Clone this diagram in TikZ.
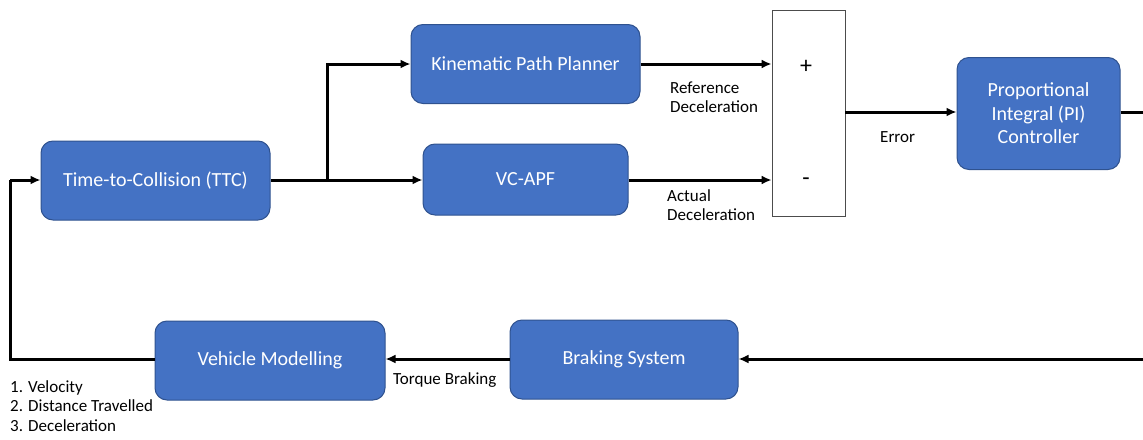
\documentclass[tikz,border=0pt]{standalone}
\usepackage{fontspec}
\setmainfont{Carlito}
\usetikzlibrary{arrows.meta}
\definecolor{boxfill}{HTML}{4472C4}
\definecolor{boxline}{HTML}{2F528F}
\begin{document}
\begin{tikzpicture}[x=1pt,y=-1pt,
  block/.style={draw=boxline, line width=1pt, fill=boxfill, rounded corners=12pt,
    text=white, font=\fontsize{20}{23.5}\selectfont, align=center, inner sep=0pt},
  sumbox/.style={draw=black!70, line width=0.8pt, fill=white, inner sep=0pt},
  sign/.style={font=\fontsize{24}{24}\selectfont, inner sep=0pt},
  lab/.style={font=\fontsize{17}{19.5}\selectfont, align=left, inner sep=0pt, anchor=north west},
  flow/.style={line width=3pt, -{Latex[length=10pt,width=9pt]}},
  wire/.style={line width=3pt}]
\useasboundingbox (0,0) rectangle (1143,439);

% blocks
\node[block, minimum width=229pt, minimum height=79pt] (ttc) at (155.5,180.5) {Time-to-Collision (TTC)};
\node[block, minimum width=229pt, minimum height=79pt] (kpp) at (525.5,64) {Kinematic Path Planner};
\node[block, minimum width=205pt, minimum height=71pt] (apf) at (525.5,179.5) {VC-APF};
\node[sumbox, minimum width=73pt, minimum height=206pt] (sum) at (808.5,113) {};
\node[sign] (plus) at (806,67) {+};
\node[sign] (minus) at (806,182) {-};
\node[block, minimum width=163pt, minimum height=112pt] (pi) at (1038.5,113.5) {Proportional\\Integral (PI)\\Controller};
\node[block, minimum width=230pt, minimum height=79pt] (veh) at (270,360.5) {Vehicle Modelling};
\node[block, minimum width=228pt, minimum height=79pt] (brk) at (624,359.5) {Braking System};

% free ends of the loop
\coordinate (branch) at (327,180);
\coordinate (piout) at (1143,112);
\coordinate (brkin) at (1143,359);
\coordinate (loopbl) at (10,359);
\coordinate (looptl) at (10,180);

% forward path
\draw[wire] (ttc.east |- branch) -- (branch);
\draw[flow] (branch) -- (apf.west |- branch);
\draw[flow] (branch) |- (kpp.west |- 0,64);
\draw[flow] (kpp.east |- 0,64) -- (sum.west |- 0,64);
\draw[flow] (apf.east |- branch) -- (sum.west |- branch);
\draw[flow] (sum.east |- piout) -- (pi.west |- piout);
\draw[wire] (pi.east |- piout) -- (piout);

% feedback path
\draw[flow] (brkin) -- (brk.east |- brkin);
\draw[flow] (brk.west |- brkin) -- (veh.east |- brkin);
\draw[wire] (veh.west |- brkin) -- (loopbl) -- (looptl);
\draw[flow] (looptl) -- (ttc.west |- looptl);

% signal labels
\node[lab] (lref) at (670,81.5) {Reference\\Deceleration};
\node[lab] (lact) at (667,189) {Actual\\Deceleration};
\node[lab] (lerr) at (880,131) {Error};
\node[lab] (ltrq) at (393,372) {Torque Braking};
\node[lab] (lout) at (10,380) {1. Velocity\\2. Distance Travelled\\3. Deceleration};
\end{tikzpicture}
\end{document}
